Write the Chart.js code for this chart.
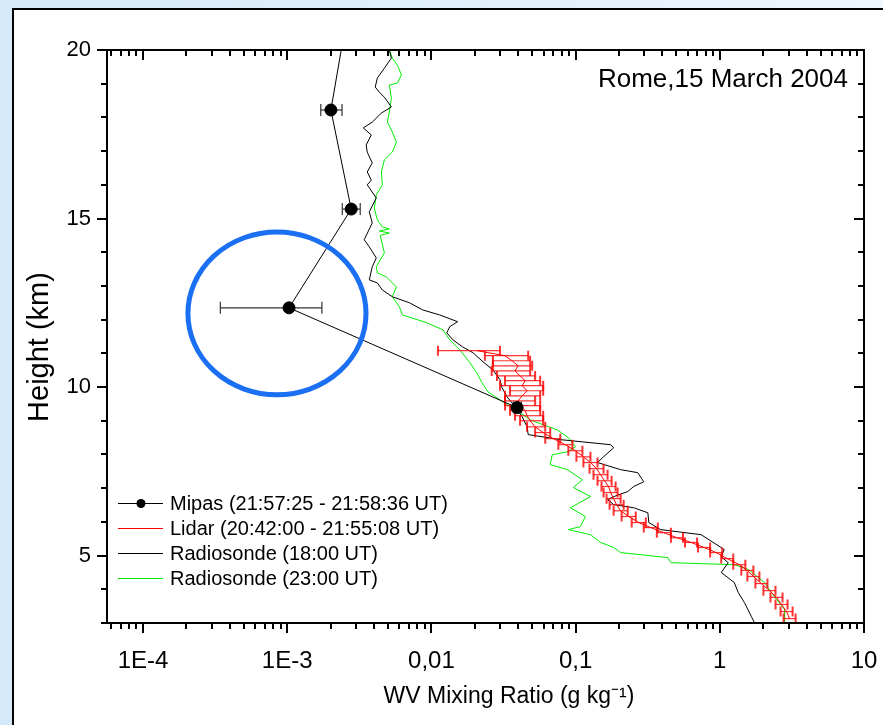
<!DOCTYPE html>
<html>
<head>
<meta charset="utf-8">
<script src="https://cdn.jsdelivr.net/npm/chart.js@4.4.0/dist/chart.umd.min.js"></script>
<style>
  html, body { margin: 0; padding: 0; width: 883px; height: 725px; overflow: hidden; }
  body { background: linear-gradient(to right, #d4e9fa, #eef6fe); position: relative; }
  #frame { position: absolute; left: 12px; top: 8px; width: 900px; height: 760px; background: #fff; border: 2px solid #000; }
  #wvChart { position: absolute; left: 0; top: 0; }
</style>
</head>
<body>
<div id="frame"></div>
<canvas id="wvChart" width="883" height="725"></canvas>
<script>
// Mipas retrieval (km, g/kg)
const mipasHeight = [21.0, 18.22, 15.28, 12.35, 9.39];
const mipasWv = [0.0026, 0.00201, 0.00278, 0.00103, 0.0393];
const mipasWvLow = [0.0023, 0.00171, 0.00241, 0.000344, 0.037];
const mipasWvHigh = [0.0029, 0.0024, 0.00321, 0.00174, 0.042];

// Lidar profile
const lidarHeight = [11.08, 10.93, 10.78, 10.63, 10.48, 10.33, 10.19, 10.04, 9.89, 9.74, 9.59, 9.45,
  9.30, 9.15, 9.00, 8.82, 8.65, 8.47, 8.29, 8.11, 7.93, 7.76, 7.58, 7.40, 7.22, 7.05, 6.87, 6.69,
  6.51, 6.33, 6.16, 5.98, 5.83, 5.68, 5.53, 5.39, 5.24, 5.09, 4.91, 4.73, 4.56, 4.38, 4.17, 3.96,
  3.76, 3.55, 3.34, 3.13];
const lidarWv = [0.0207, 0.0324, 0.0363, 0.0399, 0.0380, 0.0412, 0.0447, 0.0426, 0.0461, 0.0426, 0.0399, 0.0412,
  0.0447, 0.0461, 0.0484, 0.0524, 0.0596, 0.0700, 0.0849, 0.0997, 0.1133, 0.1268, 0.1396, 0.1489, 0.1588, 0.1693, 0.1749, 0.1835,
  0.1925, 0.2053, 0.2335, 0.2741, 0.3323, 0.4095, 0.5046, 0.6318, 0.7783, 0.9438, 1.126, 1.366, 1.553, 1.710, 1.944, 2.211,
  2.474, 2.681, 2.904, 3.048];
const lidarWvLow = [0.0111, 0.0235, 0.0267, 0.0267, 0.0262, 0.0285, 0.0324, 0.0299, 0.0351, 0.0324, 0.0324, 0.0324,
  0.0351, 0.0380, 0.0412, 0.0461, 0.0524, 0.0616, 0.0759, 0.0891, 0.1013, 0.1133, 0.1249, 0.1331, 0.1419, 0.1513, 0.1563, 0.1640,
  0.1721, 0.1835, 0.2086, 0.2449, 0.2971, 0.3660, 0.4582, 0.5738, 0.7071, 0.8571, 1.023, 1.240, 1.410, 1.553, 1.766, 2.007,
  2.246, 2.434, 2.638, 2.768];
const lidarWvHigh = [0.0299, 0.0469, 0.0484, 0.0500, 0.0484, 0.0524, 0.0568, 0.0596, 0.0596, 0.0568, 0.0524, 0.0568,
  0.0568, 0.0596, 0.0596, 0.0616, 0.0667, 0.0783, 0.0950, 0.1115, 0.1268, 0.1419, 0.1563, 0.1667, 0.1777, 0.1895, 0.1956, 0.2053,
  0.2154, 0.2298, 0.2612, 0.3068, 0.3718, 0.4582, 0.5556, 0.6956, 0.8571, 1.039, 1.240, 1.504, 1.710, 1.883, 2.141, 2.434,
  2.724, 2.951, 3.198, 3.356];

// Radiosonde 18:00 UT
const rs18Height = [20.3, 20.0, 19.76, 19.46, 19.17, 18.90, 18.75, 18.60, 18.31, 18.13, 17.86, 17.69, 17.48, 17.18,
  16.97, 16.65, 16.38, 16.14, 16.00, 15.61, 15.20, 14.87, 14.37, 14.16, 13.83, 13.57, 13.18, 13.09, 12.88, 12.68,
  12.50, 12.29, 12.14, 11.94, 11.79, 11.61, 11.40, 11.19, 11.02, 10.75, 10.51, 10.22, 9.98, 9.71, 9.42, 9.12,
  8.82, 8.59, 8.44, 8.29, 8.20, 7.93, 7.76, 7.55, 7.46, 7.19, 7.05, 6.90, 6.75, 6.66, 6.51, 6.42, 6.27, 5.98,
  5.77, 5.62, 5.18, 4.97, 4.79, 4.50, 4.20, 3.90, 3.61, 3.19, 3.01];
const rs18Wv = [0.0050, 0.00511, 0.00528, 0.00472, 0.00422, 0.00408, 0.00435, 0.00472, 0.00528, 0.00450, 0.00389, 0.00337, 0.00383, 0.00353,
  0.00359, 0.00389, 0.00359, 0.00383, 0.00359, 0.00415, 0.00371, 0.00389, 0.00342, 0.00371, 0.00415, 0.00389, 0.00371, 0.00422, 0.00457, 0.00536,
  0.00705, 0.00868, 0.0114, 0.0152, 0.0134, 0.0128, 0.0141, 0.0165, 0.0194, 0.0228, 0.0267, 0.0299, 0.0309, 0.0335, 0.0380, 0.0426,
  0.0461, 0.0469, 0.0783, 0.175, 0.184, 0.156, 0.142, 0.205, 0.270, 0.297, 0.253, 0.230, 0.184, 0.167, 0.184, 0.253, 0.317, 0.322,
  0.390, 0.742, 1.073, 1.023, 1.144, 1.023, 1.260, 1.344, 1.480, 1.656, 1.738];

// Radiosonde 23:00 UT
const rs23Height = [20.3, 20.0, 19.76, 19.55, 19.26, 19.02, 18.96, 18.57, 18.16, 17.86, 17.57, 17.27, 16.97, 16.74,
  16.38, 16.00, 15.70, 15.31, 14.96, 14.75, 14.69, 14.63, 14.57, 14.50, 13.98, 13.57, 13.39, 13.27, 12.97, 12.68,
  12.38, 12.14, 11.91, 11.70, 11.40, 11.11, 10.72, 10.42, 10.13, 9.86, 9.62, 9.42, 9.24, 9.03, 8.88, 8.73,
  8.50, 8.23, 8.08, 7.99, 7.70, 7.55, 7.25, 7.02, 6.75, 6.42, 6.16, 5.86, 5.77, 5.62, 5.39, 5.24, 5.09,
  4.94, 4.79, 4.73, 4.59, 4.20, 3.78, 3.40, 3.01];
const rs23Wv = [0.0050, 0.00511, 0.00536, 0.00581, 0.00620, 0.00581, 0.00511, 0.00528, 0.00511, 0.00495, 0.00536, 0.00572, 0.00536, 0.00472,
  0.00450, 0.00457, 0.00415, 0.00402, 0.00422, 0.00457, 0.00511, 0.00435, 0.00511, 0.00442, 0.00472, 0.00415, 0.00422, 0.00487, 0.00572, 0.00536,
  0.00600, 0.00630, 0.00926, 0.0120, 0.0134, 0.0157, 0.0185, 0.0207, 0.0224, 0.0247, 0.0299, 0.0351, 0.0412, 0.0484, 0.0597, 0.0747,
  0.0891, 0.100, 0.0877, 0.0689, 0.0667, 0.0877, 0.1115, 0.0965, 0.127, 0.0920, 0.117, 0.108, 0.0891, 0.127, 0.149, 0.184, 0.205,
  0.437, 0.458, 1.260, 1.578, 2.040, 2.395, 2.813, 2.813];

// axes
const xTickValues = [1e-4, 1e-3, 1e-2, 1e-1, 1, 10];
const xTickLabels = ['1E-4', '1E-3', '0,01', '0,1', '1', '10'];
const yTickValues = [5, 10, 15, 20];

// highlighted region (blue ring) in data units
const ringBox = { xMin: 2.05e-4, xMax: 3.52e-3, yMin: 9.77, yMax: 14.6 };

const FONT = "'Liberation Sans', Arial, sans-serif";

function points(hs, vs) {
    return hs.map((h, i) => ({ x: vs[i], y: h }));
}

const decor = {
    id: 'decor',
    beforeDatasetDraw(chart, args) {
        const ds = chart.data.datasets[args.index];
        if (!ds.errLow) return;
        const { ctx, chartArea: a, scales: { x, y } } = chart;
        ctx.save();
        ctx.beginPath();
        ctx.rect(a.left, a.top, a.right - a.left, a.bottom - a.top);
        ctx.clip();
        ctx.strokeStyle = ds.errColor;
        ds.data.forEach((p, i) => {
            const py = y.getPixelForValue(p.y);
            const x0 = x.getPixelForValue(ds.errLow[i]);
            const x1 = x.getPixelForValue(ds.errHigh[i]);
            ctx.lineWidth = 1.2;
            ctx.beginPath();
            ctx.moveTo(x0, py); ctx.lineTo(x1, py);
            ctx.stroke();
            ctx.lineWidth = ds.errCapWidth;
            ctx.beginPath();
            ctx.moveTo(x0, py - ds.errCap); ctx.lineTo(x0, py + ds.errCap);
            ctx.moveTo(x1, py - ds.errCap); ctx.lineTo(x1, py + ds.errCap);
            ctx.stroke();
        });
        ctx.restore();
    },
    afterDraw(chart) {
        const { ctx, chartArea: a, scales: { x, y } } = chart;
        ctx.save();

        // blue ring
        const rx0 = x.getPixelForValue(ringBox.xMin), rx1 = x.getPixelForValue(ringBox.xMax);
        const ry0 = y.getPixelForValue(ringBox.yMax), ry1 = y.getPixelForValue(ringBox.yMin);
        ctx.strokeStyle = '#1a6ff2';
        ctx.lineWidth = 5;
        ctx.beginPath();
        ctx.ellipse((rx0 + rx1) / 2, (ry0 + ry1) / 2, (rx1 - rx0) / 2, (ry1 - ry0) / 2, 0, 0, Math.PI * 2);
        ctx.stroke();

        // frame + ticks
        ctx.strokeStyle = '#000';
        ctx.lineWidth = 2;
        ctx.strokeRect(a.left, a.top, a.right - a.left, a.bottom - a.top);
        ctx.beginPath();
        for (let h = Math.ceil(y.min); h <= y.max; h++) {
            const py = Math.round(y.getPixelForValue(h));
            const len = h % 5 === 0 ? 10 : 6;
            ctx.moveTo(a.left - len, py); ctx.lineTo(a.left, py);
            ctx.moveTo(a.right - len, py); ctx.lineTo(a.right, py);
        }
        for (let e = -5; e <= 1; e++) {
            for (let k = 1; k <= 9; k++) {
                const v = k * Math.pow(10, e);
                if (v < x.min * 0.999 || v > x.max * 1.001) continue;
                const px = Math.round(x.getPixelForValue(v));
                const len = k === 1 ? 10 : 6;
                ctx.moveTo(px, a.bottom); ctx.lineTo(px, a.bottom + len);
                ctx.moveTo(px, a.top); ctx.lineTo(px, a.top + len);
            }
        }
        ctx.stroke();

        // axis titles
        ctx.fillStyle = '#000';
        ctx.textAlign = 'center';
        ctx.textBaseline = 'middle';
        ctx.font = '23px ' + FONT;
        ctx.fillText('WV Mixing Ratio (g kg\u207B\u00B9)', 509, 697);
        ctx.save();
        ctx.translate(40, 347);
        ctx.rotate(-Math.PI / 2);
        ctx.font = '29px ' + FONT;
        ctx.fillText('Height (km)', 0, 0);
        ctx.restore();

        // place and date
        ctx.textAlign = 'right';
        ctx.font = '26px ' + FONT;
        ctx.fillText('Rome,15 March 2004', 848, 80);

        // legend
        ctx.textAlign = 'left';
        ctx.font = '20px ' + FONT;
        const rows = [503, 528, 553, 578];
        chart.data.datasets.forEach((ds, i) => {
            const ly = rows[i];
            ctx.strokeStyle = ds.borderColor;
            ctx.lineWidth = 1;
            ctx.beginPath();
            ctx.moveTo(118, ly + 0.5); ctx.lineTo(163, ly + 0.5);
            ctx.stroke();
            if (ds.pointRadius > 0) {
                ctx.fillStyle = ds.backgroundColor;
                ctx.beginPath();
                ctx.arc(141, ly + 0.5, 4.5, 0, Math.PI * 2);
                ctx.fill();
            }
            ctx.fillStyle = '#000';
            ctx.fillText(ds.label, 170, ly + 1);
        });
        ctx.restore();
    }
};

const config = {
    type: 'scatter',
    data: {
        datasets: [
            {
                label: 'Mipas (21:57:25 - 21:58:36 UT)',
                data: points(mipasHeight, mipasWv),
                errLow: mipasWvLow, errHigh: mipasWvHigh, errColor: '#333', errCap: 6, errCapWidth: 1.2,
                showLine: true, borderColor: '#000', backgroundColor: '#000',
                borderWidth: 1, pointRadius: 6, pointHoverRadius: 6, order: 0
            },
            {
                label: 'Lidar (20:42:00 - 21:55:08 UT)',
                data: points(lidarHeight, lidarWv),
                errLow: lidarWvLow, errHigh: lidarWvHigh, errColor: 'rgba(255,0,0,0.8)', errCap: 5, errCapWidth: 2,
                showLine: true, borderColor: '#ff0000', backgroundColor: '#ff0000',
                borderWidth: 1, pointRadius: 0, order: 1
            },
            {
                label: 'Radiosonde (18:00 UT)',
                data: points(rs18Height, rs18Wv),
                showLine: true, borderColor: '#000', backgroundColor: '#000',
                borderWidth: 1, pointRadius: 0, order: 2
            },
            {
                label: 'Radiosonde (23:00 UT)',
                data: points(rs23Height, rs23Wv),
                showLine: true, borderColor: '#00ee00', backgroundColor: '#00ee00',
                borderWidth: 1, pointRadius: 0, order: 3
            }
        ]
    },
    options: {
        responsive: false,
        animation: false,
        layout: { padding: { top: 50, right: 19, left: 0, bottom: 0 } },
        plugins: {
            legend: { display: false },
            tooltip: { enabled: false }
        },
        scales: {
            x: {
                type: 'logarithmic',
                min: 5.63e-5,
                max: 10,
                afterBuildTicks: s => { s.ticks = xTickValues.map(v => ({ value: v })); },
                afterFit: s => { s.height = 102; s.paddingLeft = 0; s.paddingRight = 0; },
                ticks: {
                    callback: (v, i) => xTickLabels[i],
                    font: { size: 24, family: FONT },
                    color: '#000',
                    padding: 24,
                    autoSkip: false,
                    maxRotation: 0
                },
                grid: { display: false, drawTicks: false },
                border: { display: false }
            },
            y: {
                type: 'linear',
                min: 3,
                max: 20,
                afterBuildTicks: s => { s.ticks = yTickValues.map(v => ({ value: v })); },
                afterFit: s => { s.width = 107; },
                ticks: {
                    font: { size: 22, family: FONT },
                    color: '#000',
                    padding: 16
                },
                grid: { display: false, drawTicks: false },
                border: { display: false }
            }
        }
    },
    plugins: [decor]
};

window.onload = function () {
    new Chart(document.getElementById('wvChart').getContext('2d'), config);
};
</script>
</body>
</html>
